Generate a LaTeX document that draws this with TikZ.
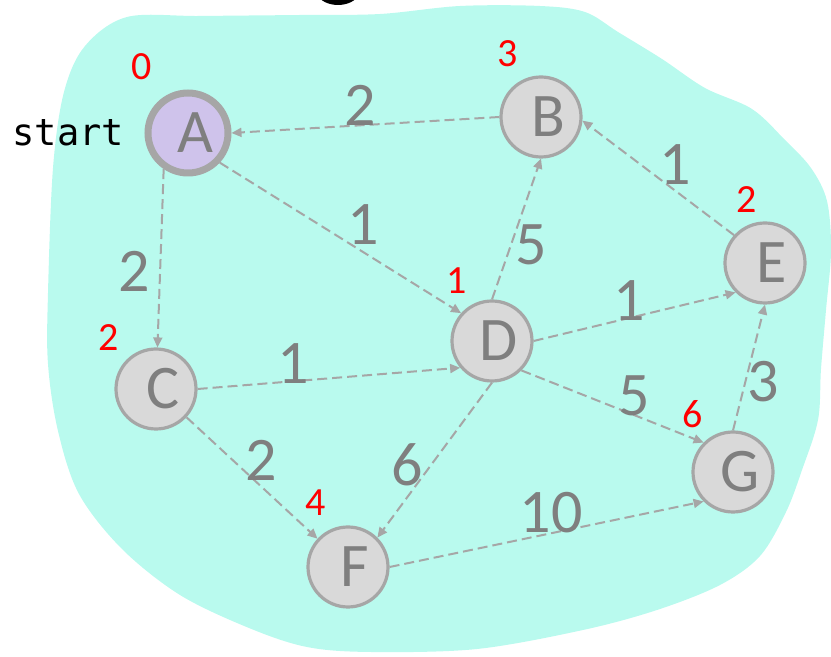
\documentclass[tikz,border=0pt]{standalone}
\usepackage{fontspec}
\setmainfont{Carlito}
\newfontfamily\startfont{DejaVu Sans Mono}
\usetikzlibrary{arrows.meta, positioning}

\definecolor{blob}{HTML}{B9FAEE}
\definecolor{vfill}{HTML}{D9D9D9}
\definecolor{vline}{HTML}{A6A6A6}
\definecolor{vtext}{HTML}{7F7F7F}
\definecolor{srcfill}{HTML}{CFC3EB}

\begin{document}
\begin{tikzpicture}[
    x=0.5pt, y=-0.5pt,
    vert/.style={circle, draw=vline, fill=vfill, line width=1.6pt,
                 minimum size=40pt, inner sep=0pt, text=vtext,
                 font=\fontsize{31}{31}\selectfont,
                 execute at begin node={\hspace*{7pt}}},
    arr/.style={-{Triangle[length=5pt,width=4.5pt]}, draw=vline,
                line width=1pt, dash pattern=on 5pt off 2.5pt},
    wt/.style={text=vtext, inner sep=0pt, font=\fontsize{31}{31}\selectfont},
    dist/.style={text=red, inner sep=0pt, font=\fontsize{20}{20}\selectfont}
  ]
    \useasboundingbox (0,0) rectangle (831,657);

    % Background region
    \fill[blob] plot[smooth cycle, tension=0.55] coordinates {
      (85,46) (127,17) (200,16) (300,15) (380,14) (460,6) (540,6)
      (585,12) (618,32) (662,59) (705,88) (752,109) (785,140)
      (811,168) (827,201) (831,251) (826,310) (821,369) (818,420)
      (802,470) (786,512) (760,556) (720,585) (657,610) (583,630)
      (477,649) (371,652) (307,647) (249,628) (180,595) (122,549)
      (79,494) (58,431) (48,364) (48,293) (53,168) (64,92)};

    % Leftover of the heading above
    \begin{scope}
      \clip (0,0) rectangle (831,657);
      \fill[black] (338,-10) ellipse [x radius=22, y radius=15];
    \end{scope}

    % Vertices
    \node[vert, fill=srcfill, line width=3.5pt] (A) at (188,133) {A};
    \node[vert] (B) at (541,117) {B};
    \node[vert] (C) at (156,389) {C};
    \node[vert] (D) at (492,341) {D};
    \node[vert] (E) at (765,263) {E};
    \node[vert] (F) at (348,567) {F};
    \node[vert] (G) at (733,472) {G};

    \node[font=\startfont\fontsize{18.5}{18.5}\selectfont, inner sep=0pt,
          left=10pt of A] (start) {start};

    % Edges
    \draw[arr] (B.west)  -- (A.east);
    \draw[arr] (A.236)   -- (C);
    \draw[arr] (A.-43)   -- (D.138);
    \draw[arr] (C.east)  -- (D.220);
    \draw[arr] (C)       -- (F);
    \draw[arr] (D.north) -- (B.south);
    \draw[arr] (D.east)  -- (E.225);
    \draw[arr] (D.-45)   -- (G.135);
    \draw[arr] (D.south) -- (F.45);
    \draw[arr] (E.138)   -- (B.-5);
    \draw[arr] (G.north) -- (E.south);
    \draw[arr] (F.east)  -- (G.225);

    % Weights
    \node[wt] (wBA) at (360,105) {2};
    \node[wt] (wAC) at (134,271) {2};
    \node[wt] (wAD) at (363,225) {1};
    \node[wt] (wCD) at (293,364) {1};
    \node[wt] (wCF) at (261,460) {2};
    \node[wt] (wDB) at (531,245) {5};
    \node[wt] (wDE) at (629,301) {1};
    \node[wt] (wDG) at (634,396) {5};
    \node[wt] (wDF) at (407,465) {6};
    \node[wt] (wEB) at (675,165) {1};
    \node[wt] (wGE) at (763,382) {3};
    \node[wt] (wFG) at (551,513) {10};

    % Distances
    \node[dist] (dA) at (142,67)  {0};
    \node[dist] (dB) at (508,54)  {3};
    \node[dist] (dC) at (109,338) {2};
    \node[dist] (dD) at (457,281) {1};
    \node[dist] (dE) at (747,200) {2};
    \node[dist] (dF) at (316,503) {4};
    \node[dist] (dG) at (693,414) {6};

  \end{tikzpicture}
\end{document}
